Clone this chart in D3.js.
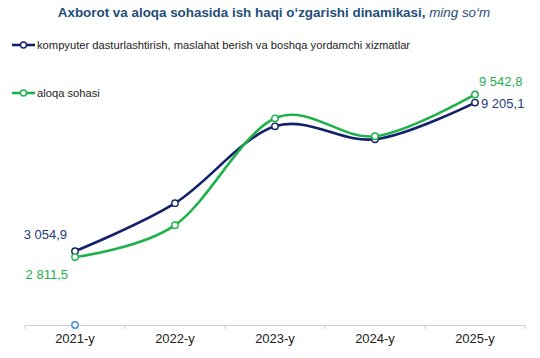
<!DOCTYPE html>
<html><head><meta charset="utf-8">
<script src="https://cdn.jsdelivr.net/npm/d3@7"></script>
<style>body{margin:0;background:#fff;}svg{display:block;font-family:"Liberation Sans",Arial,sans-serif;}</style>
</head><body>
<svg id="c" width="540" height="358"></svg>
<script>
const categories = ["2021-y","2022-y","2023-y","2024-y","2025-y"];
const seriesNames = ["kompyuter dasturlashtirish, maslahat berish va boshqa yordamchi xizmatlar","aloqa sohasi"];
const blueValues = [3054.9, 5041, 8223, 7686, 9205.1];
const greenValues = [2811.5, 4132, 8554, 7810, 9542.8];
const extraValues = [0, null, null, null, null];
const blueLabels = ["3 054,9", null, null, null, "9 205,1"];
const greenLabels = ["2 811,5", null, null, null, "9 542,8"];

const svg = d3.select("#c");
const x = d3.scaleBand().domain(categories).range([25, 525]);
const y = d3.scaleLinear().domain([0, 12000]).range([325, 35]);
const cx = d => x(d) + x.bandwidth()/2;

// title
const t = svg.append("text").attr("x", 274).attr("y", 17).attr("text-anchor","middle")
  .attr("fill","#1f4e79").style("font-size","13.4px");
t.append("tspan").attr("font-weight","bold").text("Axborot va aloqa sohasida ish haqi o‘zgarishi dinamikasi, ");
t.append("tspan").attr("font-style","italic").text("ming so‘m");

// axis
const ax = svg.append("g").attr("transform","translate(0,325)")
  .call(d3.axisBottom(x).tickSize(0).tickPadding(9));
ax.select(".domain").attr("stroke","#d0d0d0").attr("stroke-width",1.2);
ax.selectAll("text").attr("fill","#222").style("font-size","13px").attr("font-family","Liberation Sans, Arial, sans-serif");
const bounds = categories.map(c => x(c)).concat([x(categories[categories.length-1]) + x.bandwidth()]);
ax.selectAll(".bnd").data(bounds).enter().append("line")
  .attr("x1", d=>d).attr("x2", d=>d).attr("y1",0).attr("y2",4).attr("stroke","#d0d0d0").attr("stroke-width",1.2);

const series = [
  {vals: blueValues, color: "#13206a", labels: blueLabels, labelColor:"#24397a"},
  {vals: greenValues, color: "#1fb24a", labels: greenLabels, labelColor:"#22b04c"}
];
const line = d3.line().defined(d=>d.v!=null).x(d=>cx(d.c)).y(d=>y(d.v)).curve(d3.curveCardinal.tension(0));

series.forEach(s => {
  const pts = categories.map((c,i)=>({c, v:s.vals[i]}));
  svg.append("path").datum(pts).attr("d", line).attr("fill","none").attr("stroke", s.color).attr("stroke-width",2.6);
});
series.forEach(s => {
  const pts = categories.map((c,i)=>({c, v:s.vals[i]}));
  svg.selectAll(null).data(pts).enter().append("circle")
    .attr("cx", d=>cx(d.c)).attr("cy", d=>y(d.v)).attr("r",3.2)
    .attr("fill","#fff").attr("stroke", s.color).attr("stroke-width",1.4);
});
// extra point
svg.selectAll(null).data(categories.map((c,i)=>({c,v:extraValues[i]})).filter(d=>d.v!=null)).enter()
  .append("circle").attr("cx", d=>cx(d.c)).attr("cy", d=>y(d.v)).attr("r",3.2)
  .attr("fill","#fff").attr("stroke","#3d8fd9").attr("stroke-width",1.4);

// data labels
const lbl = (txt, xx, yy, color, anchor) => svg.append("text").attr("x",xx).attr("y",yy)
  .attr("text-anchor",anchor).attr("fill",color).style("font-size","13px").text(txt);
lbl(blueLabels[0], cx(categories[0]) - 8, y(blueValues[0]) - 12, series[0].labelColor, "end");
lbl(greenLabels[0], cx(categories[0]) - 7, y(greenValues[0]) + 22, series[1].labelColor, "end");
lbl(greenLabels[4], cx(categories[4]) + 4, y(greenValues[4]) - 8, series[1].labelColor, "start");
lbl(blueLabels[4], cx(categories[4]) + 6, y(blueValues[4]) + 5, series[0].labelColor, "start");

// legend
const legY = [45, 93];
series.forEach((s,i) => {
  const g = svg.append("g");
  g.append("line").attr("x1",12).attr("x2",35).attr("y1",legY[i]).attr("y2",legY[i]).attr("stroke",s.color).attr("stroke-width",2.6);
  g.append("circle").attr("cx",23.5).attr("cy",legY[i]).attr("r",3).attr("fill","#fff").attr("stroke",s.color).attr("stroke-width",1.4);
  g.append("text").attr("x",37).attr("y",legY[i]+4).attr("fill","#222").style("font-size","11.2px").text(seriesNames[i]);
});
</script>
</body></html>
